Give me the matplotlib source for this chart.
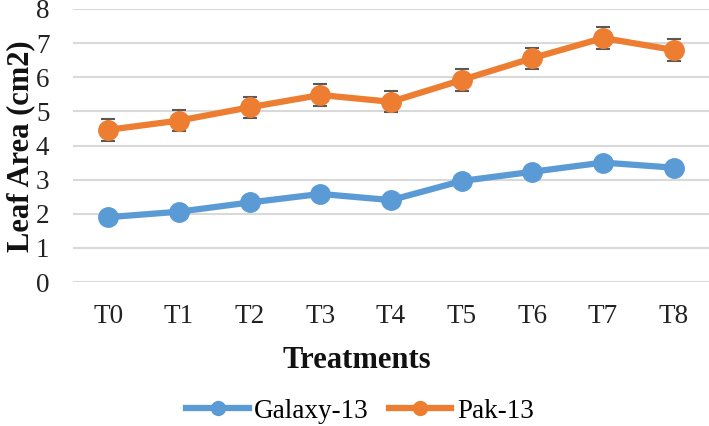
import matplotlib
matplotlib.use("Agg")
import matplotlib.pyplot as plt
from matplotlib.lines import Line2D
import numpy as np

categories = ["T0", "T1", "T2", "T3", "T4", "T5", "T6", "T7", "T8"]
galaxy = [1.90, 2.06, 2.33, 2.58, 2.40, 2.96, 3.23, 3.50, 3.35]
galaxy_err = [0.10, 0.10, 0.10, 0.10, 0.10, 0.10, 0.10, 0.10, 0.10]
pak = [4.46, 4.73, 5.12, 5.48, 5.28, 5.92, 6.56, 7.15, 6.80]
pak_err = [0.32, 0.31, 0.31, 0.31, 0.31, 0.31, 0.31, 0.31, 0.31]

plt.rcParams['font.family'] = ['Liberation Serif', 'DejaVu Serif']

W, H = 709, 426
fig = plt.figure(figsize=(W/100, H/100), dpi=100)
ax = fig.add_axes([73/W, 1-282/H, 1-73/W, (282-9)/H])

x = np.arange(len(categories))
colors = ['#5B9BD5', '#ED7D31']
labels = ['Galaxy-13', 'Pak-13']
for vals, errs, col, lab in zip([galaxy, pak], [galaxy_err, pak_err], colors, labels):
    ax.errorbar(x, vals, yerr=errs, color=col, lw=4.5, marker='o', markersize=14,
                ecolor='#595959', elinewidth=1.5, capsize=5, capthick=1.5,
                label=lab, zorder=3)

ax.set_xlim(-0.5, len(categories) - 0.5)
ax.set_ylim(0, 8)
ax.set_yticks(range(0, 9))
ax.set_xticks(x)
ax.set_xticklabels(categories)
ax.tick_params(axis='both', length=0, labelsize=19.5, colors='#222222')
ax.tick_params(axis='x', pad=16)
ax.tick_params(axis='y', pad=17)
ax.grid(axis='y', color='#D9D9D9', lw=1.5, zorder=0)
ax.set_axisbelow(True)
for s in ax.spines.values():
    s.set_visible(False)

fig.text(21/W, 1-146/H, "Leaf Area (cm2)", fontsize=22, fontweight='bold',
         rotation=90, ha='center', va='center', color='#111111')
fig.text(357/W, 1-360/H, "Treatments", fontsize=22, fontweight='bold',
         ha='center', va='center', color='#111111')

h2 = [Line2D([], [], color=c, lw=4.5, marker='o', markersize=10) for c in colors]
fig.legend(h2, labels, loc='center', bbox_to_anchor=(360/W, 1-411/H), ncol=2,
           frameon=False, fontsize=19.5, handlelength=2.3, columnspacing=0.75,
           handletextpad=0.2, borderpad=0, borderaxespad=0)

fig.savefig("out.png", dpi=100)
